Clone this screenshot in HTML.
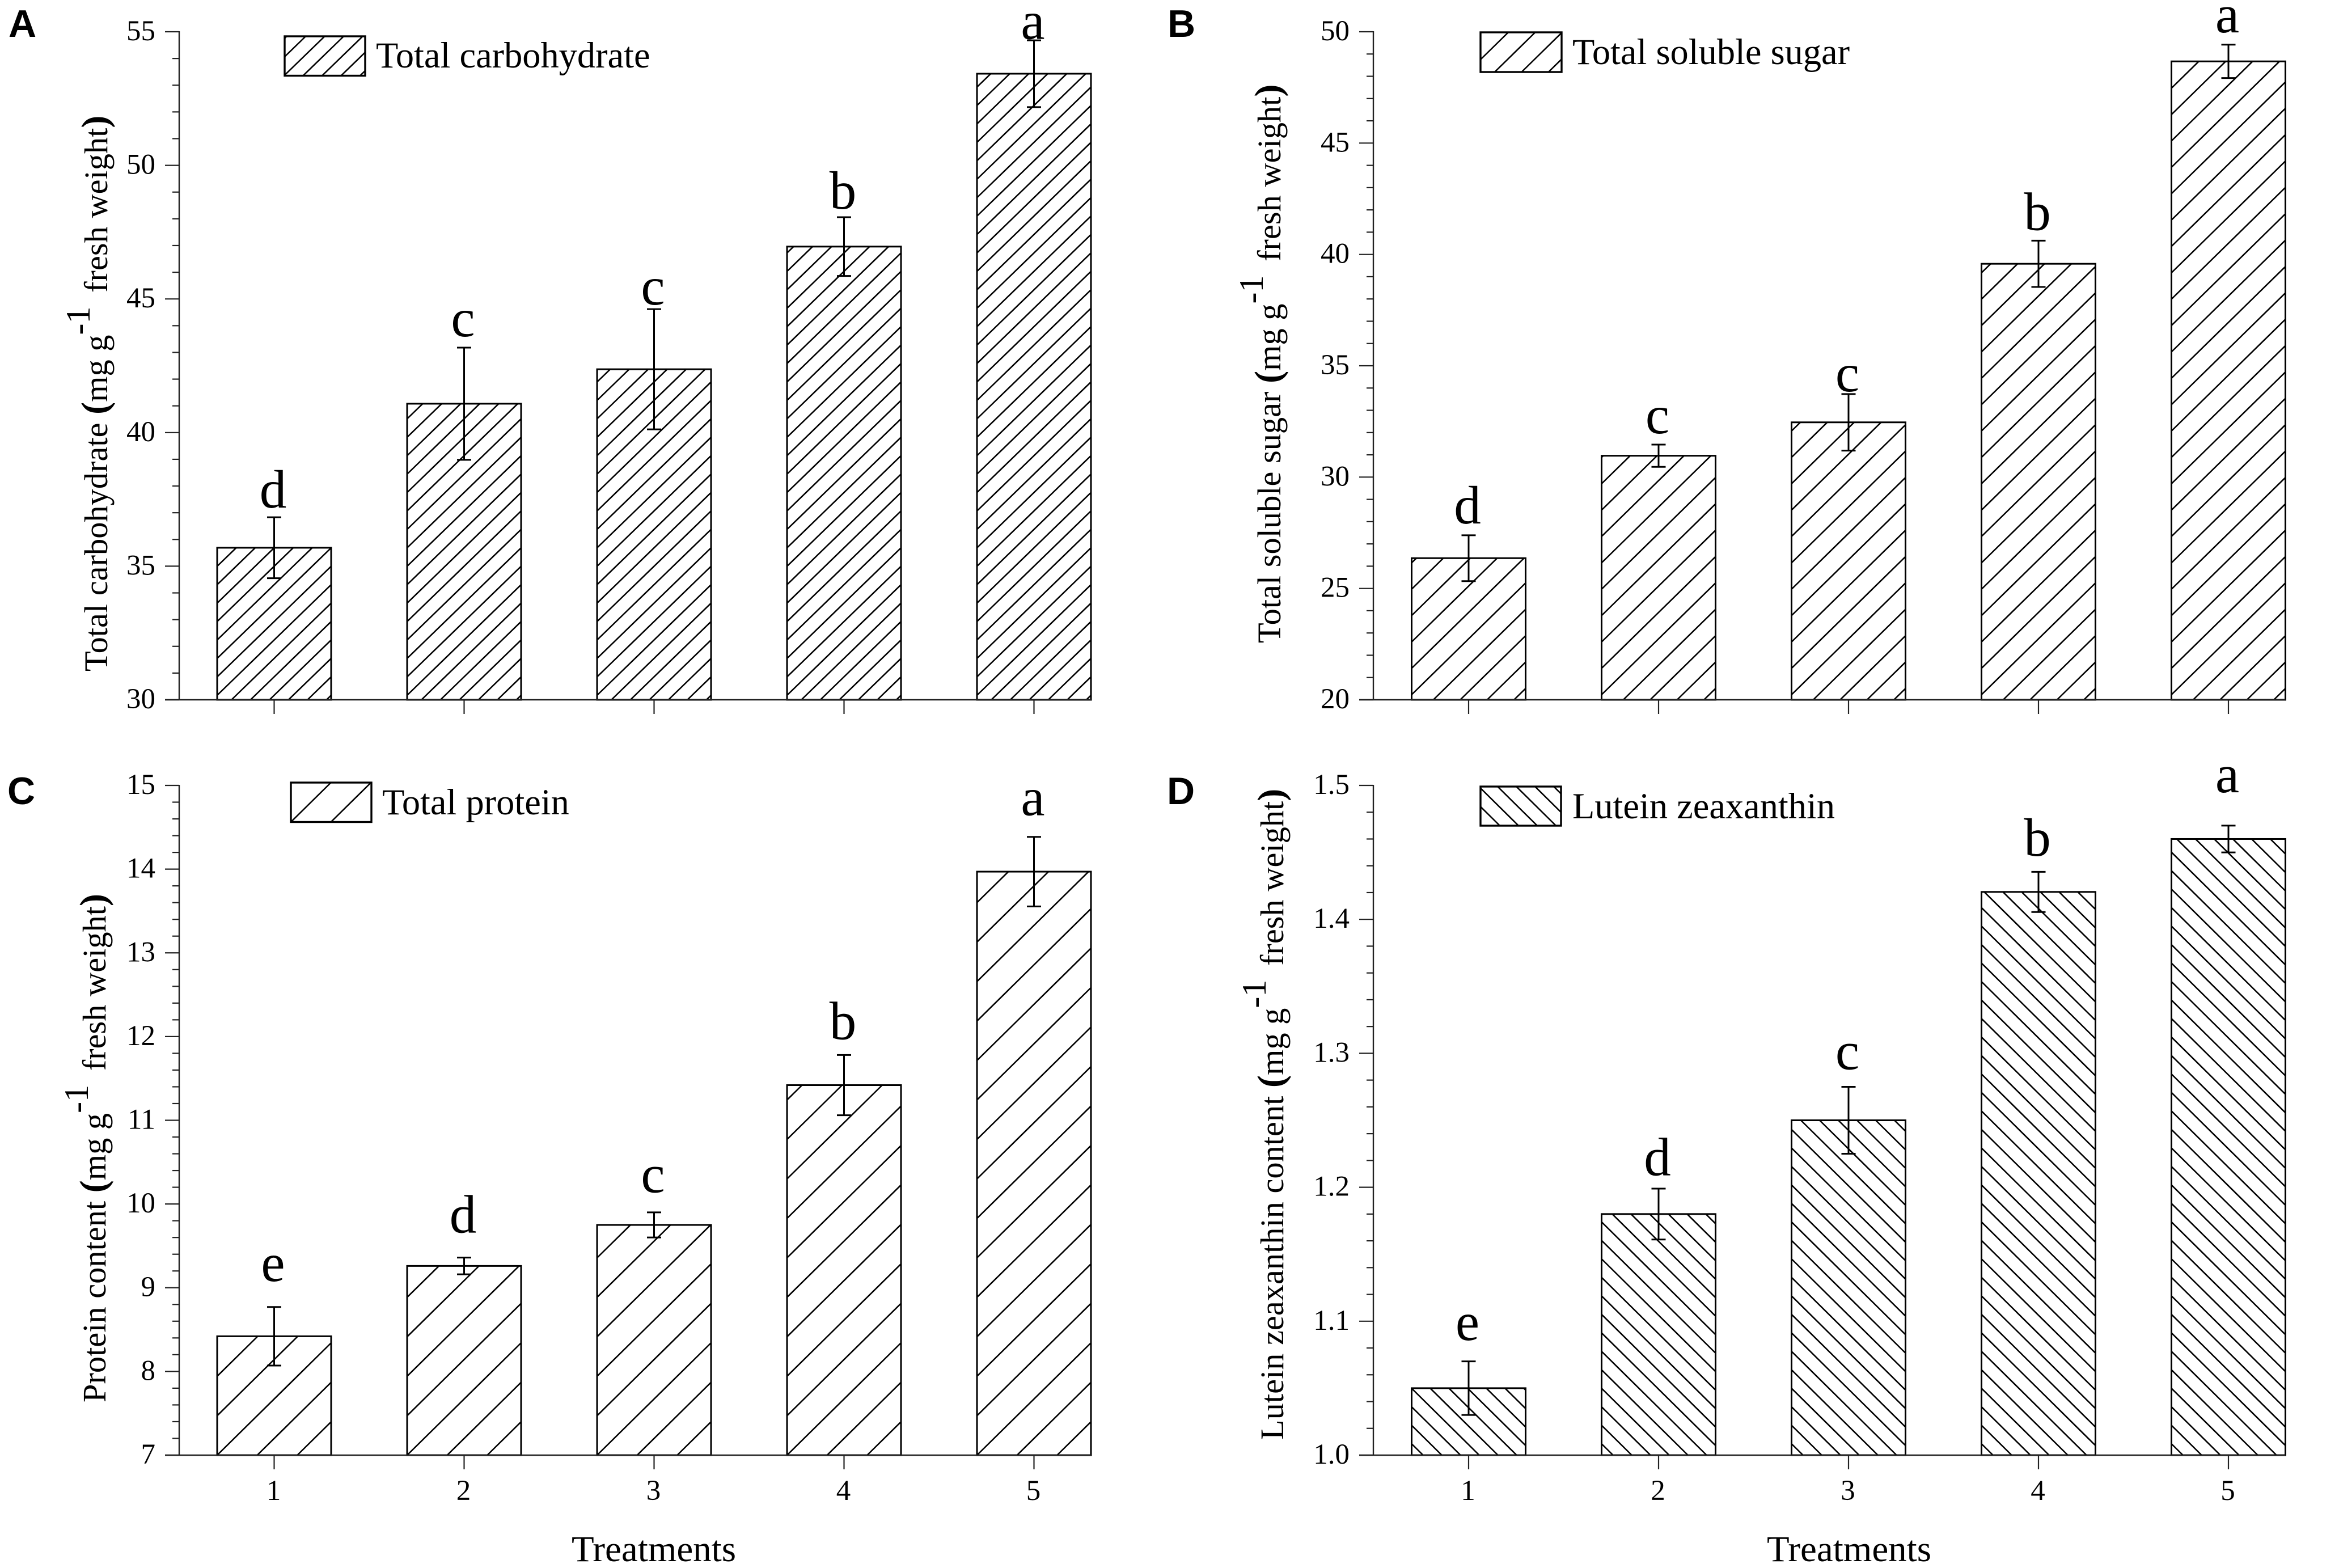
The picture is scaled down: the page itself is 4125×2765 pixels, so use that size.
<!DOCTYPE html>
<html lang="en">
<head>
<meta charset="utf-8">
<title>Treatment effects on carbohydrate, sugar, protein and lutein zeaxanthin</title>
<style>
  html, body { margin: 0; padding: 0; background: #fff; overflow: hidden; }
  svg { display: block; }
  text { font-family: "Liberation Serif", serif; fill: #000; }
  .panel-letter { font-family: "Liberation Sans", sans-serif; font-weight: 700; font-size: 68px; }
  .legend-text { font-size: 64.4px; }
  .axis-title { font-size: 65px; }
  .y-title { font-size: 58.4px; }
  .y-title .paren { font-weight: 700; font-size: 66px; }
  .tick-label { font-size: 51px; }
  .sig-letter { font-size: 95px; text-anchor: middle; }
</style>
</head>
<body>
<svg id="figure" xmlns="http://www.w3.org/2000/svg" width="4125" height="2765" viewBox="0 0 4125 2765">
  <rect x="0" y="0" width="4125" height="2765" fill="#fff"/>

  <text class="panel-letter" x="15" y="65">A</text>
  <text class="panel-letter" x="2059" y="65">B</text>
  <text class="panel-letter" x="13" y="1418">C</text>
  <text class="panel-letter" x="2058" y="1418">D</text>

  <text class="y-title" transform="translate(189 1184) rotate(-90)">Total carbohydrate <tspan class="paren">(</tspan>mg g<tspan dy="-31" font-size="60">-1</tspan><tspan dy="31" dx="10"> fresh weight</tspan><tspan class="paren">)</tspan></text>
  <text class="y-title" transform="translate(2258 1134) rotate(-90)">Total soluble sugar <tspan class="paren">(</tspan>mg g<tspan dy="-31" font-size="60">-1</tspan><tspan dy="31" dx="10"> fresh weight</tspan><tspan class="paren">)</tspan></text>
  <text class="y-title" transform="translate(186 2473) rotate(-90)">Protein content <tspan class="paren">(</tspan>mg g<tspan dy="-31" font-size="60">-1</tspan><tspan dy="31" dx="10"> fresh weight</tspan><tspan class="paren">)</tspan></text>
  <text class="y-title" transform="translate(2263 2539) rotate(-90)">Lutein zeaxanthin content <tspan class="paren">(</tspan>mg g<tspan dy="-31" font-size="60">-1</tspan><tspan dy="31" dx="10"> fresh weight</tspan><tspan class="paren">)</tspan></text>

  <text class="legend-text" x="663" y="119">Total carbohydrate</text>
  <text class="legend-text" x="2773" y="113">Total soluble sugar</text>
  <text class="legend-text" x="674" y="1436">Total protein</text>
  <text class="legend-text" x="2773" y="1443">Lutein zeaxanthin</text>

  <text class="axis-title" x="1153" y="2753" text-anchor="middle">Treatments</text>
  <text class="axis-title" x="3261" y="2753" text-anchor="middle">Treatments</text>
</svg>

<script>
// Shared category axis
const treatments = ['1', '2', '3', '4', '5'];

// Panel A: total carbohydrate
const carbTicks = [30, 35, 40, 45, 50, 55];
const carbMeans = [35.69, 41.08, 42.37, 46.96, 53.43];
const carbErrors = [1.14, 2.1, 2.25, 1.1, 1.25];
const carbLetters = ['d', 'c', 'c', 'b', 'a'];
const carbLetterLift = [0.36, 0.42, 0.17, 0.32, 0.06];

// Panel B: total soluble sugar
const sugarTicks = [20, 25, 30, 35, 40, 45, 50];
const sugarMeans = [26.36, 30.96, 32.46, 39.58, 48.67];
const sugarErrors = [1.03, 0.5, 1.27, 1.04, 0.75];
const sugarLetters = ['d', 'c', 'c', 'b', 'a'];
const sugarLetterLift = [0.53, 0.51, 0.13, 0.48, 0.56];

// Panel C: total protein
const proteinTicks = [7, 8, 9, 10, 11, 12, 13, 14, 15];
const proteinMeans = [8.42, 9.26, 9.75, 11.42, 13.97];
const proteinErrors = [0.35, 0.1, 0.15, 0.36, 0.415];
const proteinLetters = ['e', 'd', 'c', 'b', 'a'];
const proteinLetterLift = [0.31, 0.3, 0.24, 0.19, 0.26];

// Panel D: lutein zeaxanthin
const luteinTicks = ['1.0', '1.1', '1.2', '1.3', '1.4', '1.5'];
const luteinMeans = [1.05, 1.18, 1.25, 1.4205, 1.46];
const luteinErrors = [0.02, 0.019, 0.025, 0.015, 0.01];
const luteinLetters = ['e', 'd', 'c', 'b', 'a'];
const luteinLetterLift = [0.016, 0.01, 0.013, 0.012, 0.025];

const NS = 'http://www.w3.org/2000/svg';
const svg = document.getElementById('figure');
const BAR_WIDTH = 201;
const BAR_PITCH = 335;
const INK = '#000';
const AXIS_INK = '#222';

function make(tag, attrs, parent) {
  const el = document.createElementNS(NS, tag);
  for (const key in attrs) el.setAttribute(key, attrs[key]);
  (parent || svg).appendChild(el);
  return el;
}

// Builds parallel hatch lines anchored to a rectangle's lower-left corner,
// with each segment trimmed to stay inside the rectangle.
function hatchPath(left, top, width, height, hatch) {
  const bottom = top + height;
  const right = left + width;
  const rise = hatch.slope * width;
  const first = -Math.ceil(rise / hatch.spacing) - 2;
  const last = Math.ceil((height + rise) / hatch.spacing) + 2;
  let d = '';
  for (let n = first; n <= last; n++) {
    const yLeft = bottom - hatch.phase - n * hatch.spacing;
    const m = hatch.direction * hatch.slope;
    let x0 = left;
    let x1 = right;
    const xAtTop = left + (top - yLeft) / m;
    const xAtBottom = left + (bottom - yLeft) / m;
    x0 = Math.max(x0, Math.min(xAtTop, xAtBottom));
    x1 = Math.min(x1, Math.max(xAtTop, xAtBottom));
    if (x1 <= x0) continue;
    d += 'M' + x0.toFixed(2) + ' ' + (yLeft + m * (x0 - left)).toFixed(2) +
         'L' + x1.toFixed(2) + ' ' + (yLeft + m * (x1 - left)).toFixed(2);
  }
  return d;
}

function drawPanel(panel) {
  const g = make('g', {});
  
  

  const tickNums = panel.ticks.map(Number);
  const yMin = tickNums[0];
  const yMax = tickNums[tickNums.length - 1];
  const yScale = function (v) {
    return panel.baseline - (v - yMin) / (yMax - yMin) * (panel.baseline - panel.top);
  };
  const xScale = function (i) {
    return panel.firstCenter + i * BAR_PITCH;
  };
  const axisRight = xScale(treatments.length - 1) + BAR_WIDTH / 2;

  // Bars first, axes drawn over their feet
  panel.means.forEach(function (mean, i) {
    const left = xScale(i) - BAR_WIDTH / 2;
    const barTop = yScale(mean);
    const barHeight = panel.baseline - barTop;

    const hatch = make('path', {
      d: hatchPath(left, barTop, BAR_WIDTH, barHeight, panel.hatch),
      stroke: INK, 'stroke-width': 2.6, fill: 'none'
    }, g);
    
    

    const bar = make('rect', {
      x: left, y: barTop, width: BAR_WIDTH, height: barHeight,
      fill: 'none', stroke: INK, 'stroke-width': 3
    }, g);
    
    

    const err = panel.errors[i];
    const yHigh = yScale(mean + err);
    const yLow = yScale(mean - err);
    const cx = xScale(i);
    const errorBar = make('path', {
      d: 'M' + cx + ' ' + yHigh + 'L' + cx + ' ' + yLow +
         'M' + (cx - 12.5) + ' ' + yHigh + 'L' + (cx + 12.5) + ' ' + yHigh +
         'M' + (cx - 12.5) + ' ' + yLow + 'L' + (cx + 12.5) + ' ' + yLow,
      stroke: INK, 'stroke-width': 3, fill: 'none'
    }, g);
    
    

    const letter = make('text', {
      class: 'sig-letter', x: cx - 2, y: yScale(mean + err + panel.lift[i])
    }, g);
    letter.textContent = panel.letters[i];
    
    
  });

  // Y axis line and ticks
  const yAxis = make('line', {
    x1: panel.axisX, x2: panel.axisX, y1: panel.top - 1, y2: panel.baseline,
    stroke: AXIS_INK, 'stroke-width': 2.4
  }, g);
  
  

  const xAxis = make('line', {
    x1: panel.axisX - 25, x2: axisRight, y1: panel.baseline, y2: panel.baseline,
    stroke: AXIS_INK, 'stroke-width': 2.4
  }, g);
  
  

  panel.ticks.forEach(function (tickValue, i) {
    const y = yScale(Number(tickValue));
    const major = make('line', {
      x1: panel.axisX - 25, x2: panel.axisX, y1: y, y2: y,
      stroke: AXIS_INK, 'stroke-width': 2.2
    }, g);
    
    

    const label = make('text', {
      class: 'tick-label', x: panel.axisX - 42, y: y + 15, 'text-anchor': 'end'
    }, g);
    label.textContent = tickValue;
    
    

    if (i < panel.ticks.length - 1) {
      const next = Number(panel.ticks[i + 1]);
      const cur = Number(tickValue);
      for (let m = 1; m < 5; m++) {
        const ym = yScale(cur + (next - cur) * m / 5);
        const minor = make('line', {
          x1: panel.axisX - 12, x2: panel.axisX, y1: ym, y2: ym,
          stroke: AXIS_INK, 'stroke-width': 2.2
        }, g);
        
        
      }
    }
  });

  // X ticks and optional labels
  treatments.forEach(function (name, i) {
    const cx = xScale(i);
    const tick = make('line', {
      x1: cx, x2: cx, y1: panel.baseline, y2: panel.baseline + 25,
      stroke: AXIS_INK, 'stroke-width': 2.2
    }, g);
    
    

    if (panel.showXLabels) {
      const label = make('text', {
        class: 'tick-label', x: cx - 1, y: panel.baseline + 79, 'text-anchor': 'middle'
      }, g);
      label.textContent = name;
      
      
    }
  });

  // Legend swatch
  const lg = panel.legend;
  const swatchHatch = make('path', {
    d: hatchPath(lg.x, lg.y, lg.w, lg.h, { slope: panel.hatch.slope, spacing: panel.hatch.spacing, phase: lg.phase, direction: panel.hatch.direction }),
    stroke: INK, 'stroke-width': 2.6, fill: 'none'
  }, g);
  
  

  const swatch = make('rect', {
    x: lg.x, y: lg.y, width: lg.w, height: lg.h,
    fill: 'none', stroke: INK, 'stroke-width': 3.4
  }, g);
  
  
}

drawPanel({
  key: 'carbohydrate', ticks: carbTicks, means: carbMeans, errors: carbErrors,
  letters: carbLetters, lift: carbLetterLift,
  axisX: 316, firstCenter: 483.5, top: 56, baseline: 1234, showXLabels: false,
  hatch: { slope: 0.97, spacing: 32.5, phase: 8, direction: -1 },
  legend: { x: 502, y: 64, w: 142, h: 69.5, phase: 1 }
});
drawPanel({
  key: 'soluble-sugar', ticks: sugarTicks, means: sugarMeans, errors: sugarErrors,
  letters: sugarLetters, lift: sugarLetterLift,
  axisX: 2422, firstCenter: 2590, top: 56, baseline: 1234, showXLabels: false,
  hatch: { slope: 0.98, spacing: 46.5, phase: 9, direction: -1 },
  legend: { x: 2611, y: 57, w: 143, h: 70, phase: 22 }
});
drawPanel({
  key: 'protein', ticks: proteinTicks, means: proteinMeans, errors: proteinErrors,
  letters: proteinLetters, lift: proteinLetterLift,
  axisX: 316, firstCenter: 483.5, top: 1385, baseline: 2566, showXLabels: true,
  hatch: { slope: 0.985, spacing: 69.6, phase: 0, direction: -1 },
  legend: { x: 513, y: 1380, w: 142, h: 69.5, phase: 0 }
});
drawPanel({
  key: 'lutein', ticks: luteinTicks, means: luteinMeans, errors: luteinErrors,
  letters: luteinLetters, lift: luteinLetterLift,
  axisX: 2422, firstCenter: 2590, top: 1385, baseline: 2566, showXLabels: true,
  hatch: { slope: 0.988, spacing: 32.6, phase: 20, direction: 1 },
  legend: { x: 2611, y: 1387, w: 142, h: 69, phase: 1 }
});
</script>
</body>
</html>
